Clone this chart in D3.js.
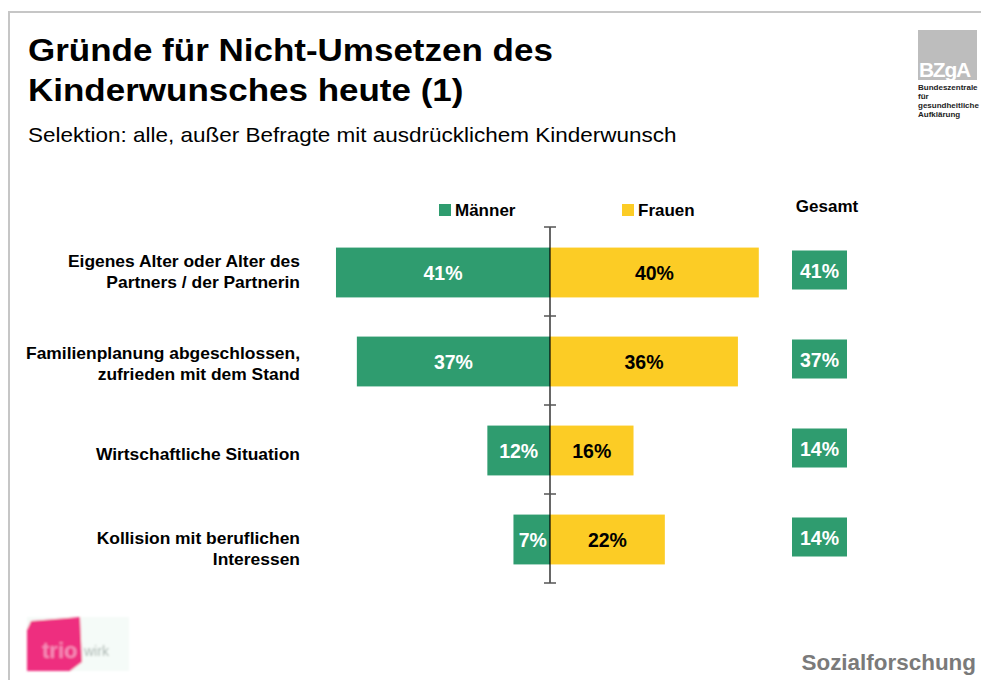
<!DOCTYPE html>
<html>
<head>
<meta charset="utf-8">
<script src="https://cdn.jsdelivr.net/npm/d3@7"></script>
<style>
  body { margin: 0; background: #fff; }
  svg { display: block; font-family: "Liberation Sans", Arial, sans-serif; }
</style>
</head>
<body>
<svg id="chart" width="981" height="680"></svg>
<script>
// Daten
const categories = [
  ["Eigenes Alter oder Alter des", "Partners / der Partnerin"],
  ["Familienplanung abgeschlossen,", "zufrieden mit dem Stand"],
  ["Wirtschaftliche Situation"],
  ["Kollision mit beruflichen", "Interessen"]
];
const maenner = [41, 37, 12, 7];
const frauen = [40, 36, 16, 22];
const gesamt = [41, 37, 14, 14];
const seriesNames = ["Männer", "Frauen"];

const green = "#2f9c6f";
const yellow = "#fccc25";
// kleine Verschiebung der Beschriftungen wie in der Vorlage
const labelShift = [-1, 2, 3, 9];

const svg = d3.select("#chart");

// Text mit horizontaler Streckung (Vorlage ist leicht gestreckt)
function label(x, y, lines, opt) {
  const o = Object.assign({ size: 16, sx: 1, weight: "normal", fill: "#000", anchor: "start", lh: 20 }, opt);
  const g = svg.append("g").attr("transform", `translate(${x},${y}) scale(${o.sx},1)`);
  const t = g.append("text")
    .attr("font-size", o.size)
    .attr("font-weight", o.weight)
    .attr("fill", o.fill)
    .attr("text-anchor", o.anchor);
  if (o.ls) t.attr("letter-spacing", o.ls);
  lines.forEach((ln, j) => t.append("tspan").attr("x", 0).attr("y", j * o.lh).text(ln));
  return t;
}

// Rahmen
svg.append("path")
  .attr("d", "M9,682 L9,12 L985,12")
  .attr("fill", "none")
  .attr("stroke", "#c6c6c6")
  .attr("stroke-width", 2);

// Titel
label(28, 61, ["Gründe für Nicht-Umsetzen des", "Kinderwunsches heute (1)"],
  { size: 32, sx: 1.094, weight: "bold", lh: 40 });
label(28, 142, ["Selektion: alle, außer Befragte mit ausdrücklichem Kinderwunsch"],
  { size: 20, sx: 1.125 });

// Skalen
const centerX = 550;
const pxPerPct = 5.22;
const xRight = d3.scaleLinear().domain([0, 100]).range([centerX, centerX + 100 * pxPerPct]);
const xLeft = d3.scaleLinear().domain([0, 100]).range([centerX, centerX - 100 * pxPerPct]);
const y = d3.scaleBand()
  .domain(d3.range(categories.length))
  .range([228, 584])
  .paddingInner(0.44)
  .paddingOuter(0.22);

// Legende
const legend = [
  { name: seriesNames[0], color: green, x: 439 },
  { name: seriesNames[1], color: yellow, x: 622 }
];
legend.forEach(l => {
  svg.append("rect").attr("x", l.x).attr("y", 204).attr("width", 12).attr("height", 12).attr("fill", l.color);
  label(l.x + 16, 216, [l.name], { size: 17, weight: "bold" });
});
label(827, 212, ["Gesamt"], { size: 17, weight: "bold", anchor: "middle" });

// Balken
const rows = svg.append("g");
rows.selectAll("rect.m")
  .data(maenner)
  .join("rect")
  .attr("class", "m")
  .attr("x", d => xLeft(d))
  .attr("y", (d, i) => y(i))
  .attr("width", d => centerX - xLeft(d))
  .attr("height", y.bandwidth())
  .attr("fill", green);

rows.selectAll("rect.f")
  .data(frauen)
  .join("rect")
  .attr("class", "f")
  .attr("x", centerX)
  .attr("y", (d, i) => y(i))
  .attr("width", d => xRight(d) - centerX)
  .attr("height", y.bandwidth())
  .attr("fill", yellow);

rows.selectAll("text.m")
  .data(maenner)
  .join("text")
  .attr("class", "m")
  .attr("x", d => d < 10 ? (xLeft(d) + centerX) / 2 + 1 : (xLeft(d) + centerX) / 2)
  .attr("text-anchor", "middle")
  .attr("y", (d, i) => y(i) + y.bandwidth() / 2 + 7)
  .attr("font-size", 19.5)
  .attr("font-weight", "bold")
  .attr("fill", "#fff")
  .text(d => d + "%");

rows.selectAll("text.f")
  .data(frauen)
  .join("text")
  .attr("class", "f")
  .attr("x", d => (xRight(d) + centerX) / 2)
  .attr("text-anchor", "middle")
  .attr("y", (d, i) => y(i) + y.bandwidth() / 2 + 7)
  .attr("font-size", 19.5)
  .attr("font-weight", "bold")
  .attr("fill", "#000")
  .text(d => d + "%");

// Gesamt
rows.selectAll("rect.g")
  .data(gesamt)
  .join("rect")
  .attr("class", "g")
  .attr("x", 792)
  .attr("y", (d, i) => y(i) + y.bandwidth() / 2 - 22)
  .attr("width", 55)
  .attr("height", 39)
  .attr("fill", green);

rows.selectAll("text.g")
  .data(gesamt)
  .join("text")
  .attr("class", "g")
  .attr("x", 819.5)
  .attr("y", (d, i) => y(i) + y.bandwidth() / 2 + 5)
  .attr("text-anchor", "middle")
  .attr("font-size", 19.5)
  .attr("font-weight", "bold")
  .attr("fill", "#fff")
  .text(d => d + "%");

// Kategorien
categories.forEach((lines, i) => {
  const cy = y(i) + y.bandwidth() / 2 + labelShift[i];
  const start = cy + 6 - (lines.length - 1) * 21 / 2;
  label(300, start, lines, { size: 16, sx: 1.09, weight: "bold", anchor: "end", lh: 21 });
});

// Mittelachse
svg.append("line")
  .attr("x1", centerX).attr("x2", centerX)
  .attr("y1", 227).attr("y2", 583)
  .attr("stroke", "#000").attr("stroke-width", 1.2);
const tickYs = d3.range(categories.length + 1).map(i => 227 + i * (583 - 227) / categories.length);
svg.selectAll("line.tick")
  .data(tickYs)
  .join("line")
  .attr("class", "tick")
  .attr("x1", centerX - 6).attr("x2", centerX + 6)
  .attr("y1", d => d).attr("y2", d => d)
  .attr("stroke", "#555").attr("stroke-width", 1.5);

// BZgA Logo
svg.append("rect").attr("x", 918).attr("y", 30).attr("width", 59).attr("height", 50).attr("fill", "#bdbdbd");
svg.append("text").attr("x", 919).attr("y", 77)
  .attr("font-size", 21).attr("font-weight", "bold").attr("fill", "#fff").attr("letter-spacing", -1.3).text("BZgA");
const logoTxt = svg.append("text").attr("font-size", 8).attr("font-weight", "bold").attr("fill", "#222");
["Bundeszentrale", "für", "gesundheitliche", "Aufklärung"].forEach((s, i) => {
  logoTxt.append("tspan").attr("x", 918).attr("y", 90 + i * 9).text(s);
});

// trio Logo (unscharf)
const defs = svg.append("defs");
defs.append("filter").attr("id", "blur").append("feGaussianBlur").attr("stdDeviation", 1.3);
const logo = svg.append("g").attr("filter", "url(#blur)");
logo.append("rect").attr("x", 27).attr("y", 617).attr("width", 102).attr("height", 54).attr("fill", "#f5fbf8");
logo.append("path").attr("d", "M31,621 L80,617 L82,662 L70,671 L27,671 L27,630 Z").attr("fill", "#ee2f7f");
logo.append("text").attr("x", 42).attr("y", 658).attr("font-size", 22).attr("font-weight", "bold")
  .attr("fill", "#f58cb8").text("trio");
logo.append("text").attr("x", 84).attr("y", 656).attr("font-size", 14)
  .attr("fill", "#a7b3ae").text("wirk");

// Fußzeile
label(976, 670, ["Sozialforschung"], { size: 22, sx: 1.02, weight: "bold", fill: "#7a7a7a", anchor: "end" });
</script>
</body>
</html>
